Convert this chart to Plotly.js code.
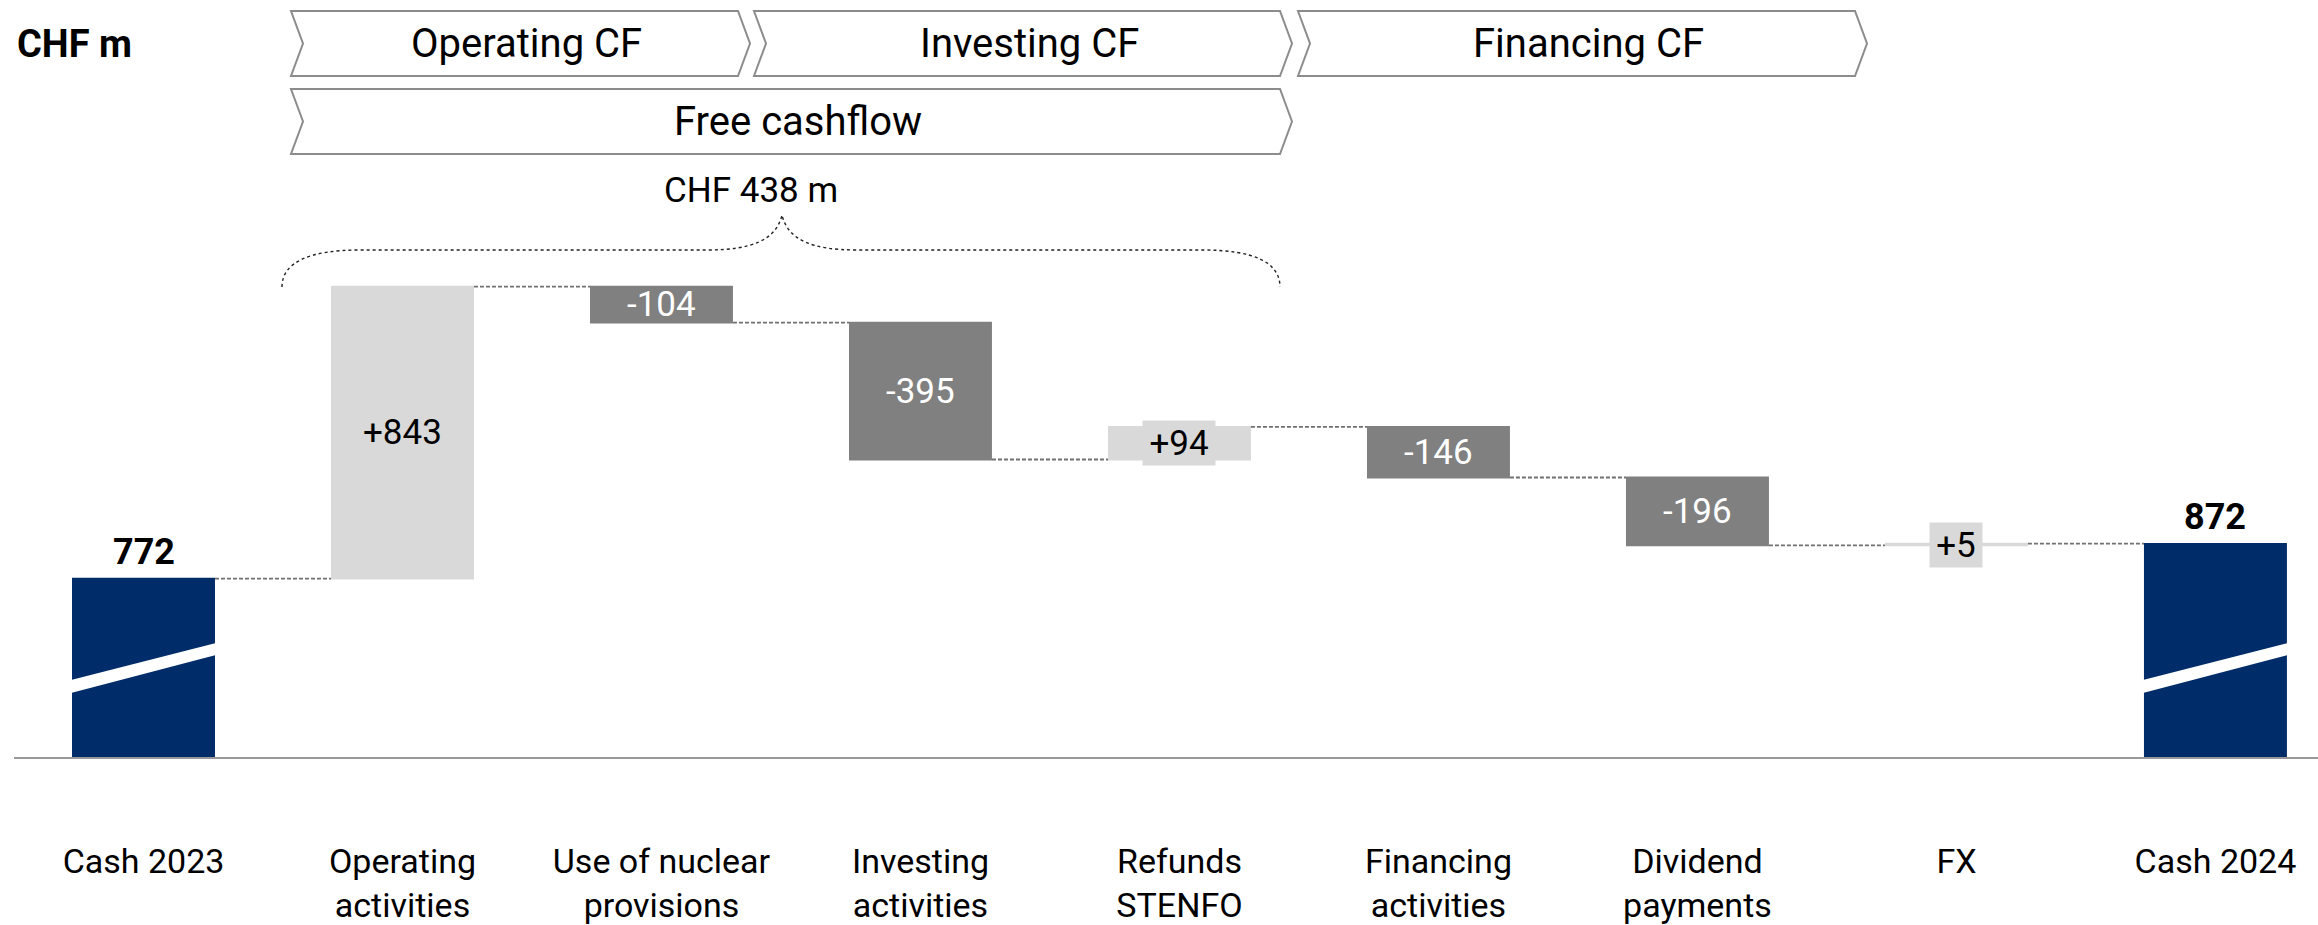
<!DOCTYPE html>
<html>
<head>
<meta charset="utf-8">
<script src="https://cdn.plot.ly/plotly-3.0.1.min.js"></script>
<style>html,body{margin:0;padding:0;background:#fff;}#chart{width:2318px;height:925px;}</style>
</head>
<body>
<div id="chart"></div>
<script>
// ---------- DATA ----------
const categories = ['Cash 2023','Operating activities','Use of nuclear provisions','Investing activities','Refunds STENFO','Financing activities','Dividend payments','FX','Cash 2024'];
const tickLabels = ['Cash 2023','Operating<br>activities','Use of nuclear<br>provisions','Investing<br>activities','Refunds<br>STENFO','Financing<br>activities','Dividend<br>payments','FX','Cash 2024'];
const values = [772, 843, -104, -395, 94, -146, -196, 5, 872];
const measures = ['absolute','relative','relative','relative','relative','relative','relative','relative','absolute'];
const valueLabels = ['772','+843','-104','-395','+94','-146','-196','+5','872'];
const bannerLabels = ['Operating CF','Investing CF','Financing CF','Free cashflow'];
const freeCashflowLabel = 'CHF 438 m';
const unitLabel = 'CHF m';

// ---------- STYLE / GEOMETRY ----------
const W = 2318, H = 925;
const M = {l:14, r:0, t:100, b:168};
const plotW = W - M.l - M.r, plotH = H - M.t - M.b;
const axisY = H - M.b;                 // pixel row of the baseline
const xRange = [-0.5, 8.396];
const yRange = [257, 2154];
const barWidth = 0.552;
const FONT = 'Roboto, "Open Sans", sans-serif';
const COL = {total:'#002C69', inc:'#D9D9D9', dec:'#808080', conn:'#707070', frame:'#8C8C8C', text:'#000000'};

const X = px => (px - M.l) / plotW;               // pixel -> paper
const Y = py => (axisY - py) / plotH;
const catPx = i => M.l + (i - xRange[0]) / (xRange[1] - xRange[0]) * plotW;
const unitPx = plotW / (xRange[1] - xRange[0]);

// ---------- TRACE ----------
const trace = {
  type: 'waterfall',
  x: categories, y: values, measure: measures,
  width: barWidth,
  textposition: 'none',
  hoverinfo: 'skip',
  increasing: {marker: {color: COL.inc}},
  decreasing: {marker: {color: COL.dec}},
  totals: {marker: {color: COL.total}},
  connector: {mode: 'between', line: {color: COL.conn, width: 1.8, dash: '4px,2px'}}
};

// ---------- ANNOTATIONS (value labels built from data) ----------
const annotations = [];
let running = 0;
values.forEach((v, i) => {
  let start, end;
  if (measures[i] === 'absolute') { start = 0; end = v; } else { start = running; end = running + v; }
  running = end;
  const lbl = valueLabels[i];
  if (measures[i] === 'absolute') {
    annotations.push({x: categories[i], y: end, xref:'x', yref:'y', text: lbl, showarrow:false,
      yanchor:'bottom', yshift: 4, font:{family:FONT, size:36, color:COL.text, weight:700}});
  } else {
    const small = v > 0 && Math.abs(v) * plotH / (yRange[1]-yRange[0]) < 40;
    const a = {x: categories[i], y: (start + end) / 2, xref:'x', yref:'y', text: lbl, showarrow:false,
      yanchor:'middle', font:{family:FONT, size:35, color: v < 0 ? '#FFFFFF' : COL.text}};
    if (small) { a.bgcolor = COL.inc; a.borderpad = 0; a.height = 44; a.width = 20 * lbl.length + 12; }
    annotations.push(a);
  }
});

// unit label
annotations.push({xref:'paper', yref:'paper', x: X(15), y: Y(44), xanchor:'left', yanchor:'middle', showarrow:false,
  text: unitLabel, font:{family:FONT, size:38, color:COL.text, weight:700}});

// ---------- BANNERS (chevrons) ----------
const banners = [
  {x0:291, x1:750, top:11, bot:76},
  {x0:754, x1:1292, top:11, bot:76},
  {x0:1298, x1:1867, top:11, bot:76},
  {x0:291, x1:1292, top:89, bot:154}
];
const shapes = [];
const d = 12;
banners.forEach((b, k) => {
  const mid = (b.top + b.bot) / 2;
  const pts = [[b.x0,b.top],[b.x1-d,b.top],[b.x1,mid],[b.x1-d,b.bot],[b.x0,b.bot],[b.x0+d,mid]];
  const path = 'M ' + pts.map(p => X(p[0]) + ',' + Y(p[1])).join(' L ') + ' Z';
  shapes.push({type:'path', xref:'paper', yref:'paper', path, fillcolor:'#FFFFFF', line:{color:COL.frame, width:2}, layer:'above'});
  annotations.push({xref:'paper', yref:'paper', x: X((b.x0 + b.x1) / 2 + 6), y: Y(mid), xanchor:'center', yanchor:'middle',
    showarrow:false, text: bannerLabels[k], font:{family:FONT, size:40, color:COL.text}});
});

// ---------- BRACE ----------
const P = (px, py) => X(px) + ',' + Y(py);
const bracePath = 'M ' + P(282,287) + ' C ' + P(282,262) + ' ' + P(310,250) + ' ' + P(360,250) +
  ' L ' + P(707,250) + ' C ' + P(752,250) + ' ' + P(776,240) + ' ' + P(782,215) +
  ' C ' + P(788,240) + ' ' + P(812,250) + ' ' + P(857,250) +
  ' L ' + P(1203,250) + ' C ' + P(1253,250) + ' ' + P(1280,262) + ' ' + P(1280,287);
shapes.push({type:'path', xref:'paper', yref:'paper', path: bracePath, line:{color:'#222222', width:1.4, dash:'dot'}});
annotations.push({xref:'paper', yref:'paper', x: X(751), y: Y(190), xanchor:'center', yanchor:'middle', showarrow:false,
  text: freeCashflowLabel, font:{family:FONT, size:35, color:COL.text}});

// ---------- AXIS BREAK MARKS on total bars ----------
measures.forEach((m, i) => {
  if (m !== 'absolute') return;
  const cx = catPx(i), hw = barWidth / 2 * unitPx + 1;
  const path = 'M ' + P(cx - hw, 680) + ' L ' + P(cx + hw, 643) + ' L ' + P(cx + hw, 655) + ' L ' + P(cx - hw, 693) + ' Z';
  shapes.push({type:'path', xref:'paper', yref:'paper', path, fillcolor:'#FFFFFF', line:{width:0}, layer:'above'});
});

const layout = {
  width: W, height: H,
  margin: M,
  paper_bgcolor:'#FFFFFF', plot_bgcolor:'#FFFFFF',
  showlegend:false, hovermode:false,
  font:{family:FONT, color:COL.text},
  xaxis:{type:'category', range:xRange, tickmode:'array', tickvals:categories, ticktext:tickLabels,
    showline:true, linecolor:'#999999', linewidth:2, showgrid:false, zeroline:false, ticks:'',
    ticklabelstandoff: 73, tickfont:{family:FONT, size:34, color:COL.text}, fixedrange:true},
  yaxis:{range:yRange, visible:false, showgrid:false, zeroline:false, fixedrange:true},
  shapes, annotations
};

Plotly.newPlot('chart', [trace], layout, {displayModeBar:false, staticPlot:true});
</script>
</body>
</html>
